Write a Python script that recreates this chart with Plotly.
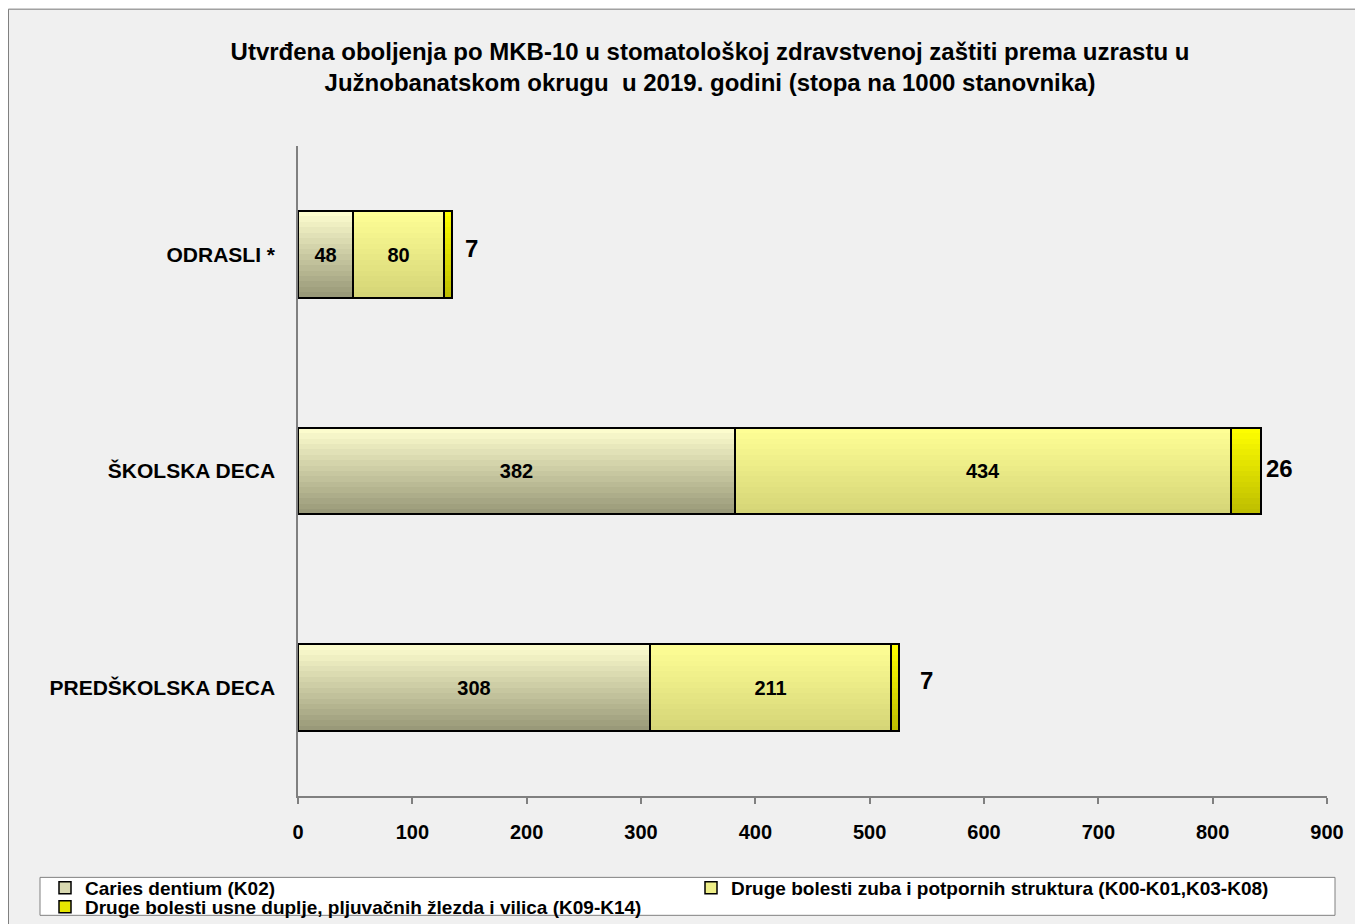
import plotly.graph_objects as go

categories = ["PREDŠKOLSKA DECA", "ŠKOLSKA DECA", "ODRASLI *"]
series_names = [
    "Caries dentium (K02)",
    "Druge bolesti zuba i potpornih struktura (K00-K01,K03-K08)",
    "Druge bolesti usne duplje, pljuvačnih žlezda i vilica (K09-K14)",
]
caries = [308, 382, 48]
druge_zuba = [211, 434, 80]
druge_usne = [7, 26, 7]
x_ticks = [0, 100, 200, 300, 400, 500, 600, 700, 800, 900]

series_values = [caries, druge_zuba, druge_usne]
# gradient (top colour, bottom colour) per series
grad = [((255, 255, 208), (150, 150, 118)),
        ((255, 255, 150), (212, 212, 118)),
        ((255, 255, 0), (188, 188, 0))]
legend_colors = ["#D8D8B0", "#EEEE88", "#E6E600"]
legend_ids = ["legend", "legend2", "legend3"]
# label nudges (px) for the outside labels of the last series
label_xshift = [19, 3, 11]
label_yshift = [7, 3, 6]

FONT = "Arial, Liberation Sans, sans-serif"
BAR_W = 0.4
N = 16
W, H = 1363, 924
L, R, T, B = 290, 44, 137.5, 135.5
PW, PH = W - L - R, H - T - B

fig = go.Figure()

bases = [[0] * len(categories)]
for vals in series_values[:-1]:
    bases.append([b + v for b, v in zip(bases[-1], vals)])

# gradient slices
for s, vals in enumerate(series_values):
    top, bot = grad[s]
    for k in range(N):
        t = (k + 0.5) / N  # 0 bottom -> 1 top
        c = tuple(round(bot[i] + (top[i] - bot[i]) * t) for i in range(3))
        fig.add_trace(go.Bar(
            y=categories, x=vals, base=bases[s], orientation="h",
            width=BAR_W / N + 0.002, offset=-BAR_W / 2 + k * BAR_W / N,
            marker=dict(color="rgb(%d,%d,%d)" % c, line=dict(width=0)),
            showlegend=False, hoverinfo="skip",
        ))

# outlines + inside labels
for s, vals in enumerate(series_values):
    last = s == len(series_values) - 1
    fig.add_trace(go.Bar(
        y=categories, x=vals, base=bases[s], orientation="h",
        width=BAR_W, offset=-BAR_W / 2,
        marker=dict(color="rgba(0,0,0,0)", line=dict(color="#000000", width=2)),
        text=None if last else [str(v) for v in vals],
        textposition="none" if last else "inside",
        insidetextanchor="middle",
        textangle=0,
        textfont=dict(family=FONT, size=20, color="#000000", weight="bold"),
        constraintext="none",
        cliponaxis=False,
        showlegend=False, hoverinfo="skip",
    ))

# outside labels for the last series
annotations = []
for i, cat in enumerate(categories):
    annotations.append(dict(
        x=bases[-1][i] + druge_usne[i], y=cat, xref="x", yref="y",
        text="<b>%d</b>" % druge_usne[i], showarrow=False,
        xanchor="left", yanchor="middle",
        xshift=label_xshift[i], yshift=label_yshift[i],
        font=dict(family=FONT, size=24, color="#000000"),
    ))

# legend entries
for s, name in enumerate(series_names):
    fig.add_trace(go.Bar(
        y=[None], x=[None], orientation="h", name=name,
        marker=dict(color=legend_colors[s], line=dict(color="#000000", width=1.5)),
        showlegend=True, legend=legend_ids[s],
    ))

legend_common = dict(
    xref="container", yref="container", xanchor="left", yanchor="top",
    orientation="v", bgcolor="rgba(0,0,0,0)", borderwidth=0,
    font=dict(family=FONT, size=19, color="#000000", weight="bold"),
    itemwidth=30, tracegroupgap=0,
)

fig.update_layout(
    width=W, height=H,
    barmode="overlay",
    paper_bgcolor="#F0F0F0",
    plot_bgcolor="rgba(0,0,0,0)",
    margin=dict(l=L, r=R, t=T, b=B, autoexpand=False),
    font=dict(family=FONT, size=15, color="#000000"),
    title=dict(
        text="<b>Utvrđena oboljenja po MKB-10 u stomatološkoj zdravstvenoj zaštiti prema uzrastu u<br>Južnobanatskom okrugu  u 2019. godini (stopa na 1000 stanovnika)</b>",
        x=702 / W, xanchor="center", y=1 - 52 / H, yanchor="top",
        font=dict(family=FONT, size=24, color="#000000"),
    ),
    xaxis=dict(
        range=[0, 900], tickvals=x_ticks, ticktext=[str(v) for v in x_ticks],
        showgrid=False, zeroline=False,
        showline=True, linecolor="#808080", linewidth=1.5,
        ticks="outside", ticklen=6, tickcolor="#808080", tickwidth=1.5,
        tickfont=dict(family=FONT, size=20, color="#000000", weight="bold"),
        ticklabelstandoff=11,
    ),
    yaxis=dict(
        categoryorder="array", categoryarray=categories,
        range=[-0.5, 2.5],
        showgrid=False, zeroline=False,
        showline=True, linecolor="#808080", linewidth=1.5,
        ticks="", ticklabelstandoff=17,
        tickfont=dict(family=FONT, size=21, color="#000000", weight="bold"),
    ),
    legend=dict(x=37 / W, y=1 - 861 / H, **legend_common),
    legend2=dict(x=683 / W, y=1 - 861 / H, **legend_common),
    legend3=dict(x=37 / W, y=1 - 880 / H, **legend_common),
    annotations=annotations,
    shapes=[
        # legend box
        dict(type="rect", xref="paper", yref="paper",
             x0=(32 - L) / PW, x1=(1327 - L) / PW,
             y0=(H - B - 908) / PH, y1=(H - B - 870) / PH,
             line=dict(color="#808080", width=1), fillcolor="#FFFFFF", layer="below"),
        # chart frame
        dict(type="rect", xref="paper", yref="paper",
             x0=(0.5 - L) / PW, x1=(W + 20 - L) / PW,
             y0=(H - B - H - 20) / PH, y1=(H - B - 0.5) / PH,
             line=dict(color="#808080", width=1), fillcolor="rgba(0,0,0,0)", layer="below"),
    ],
    bargap=0,
)

fig.write_html("out.html")
